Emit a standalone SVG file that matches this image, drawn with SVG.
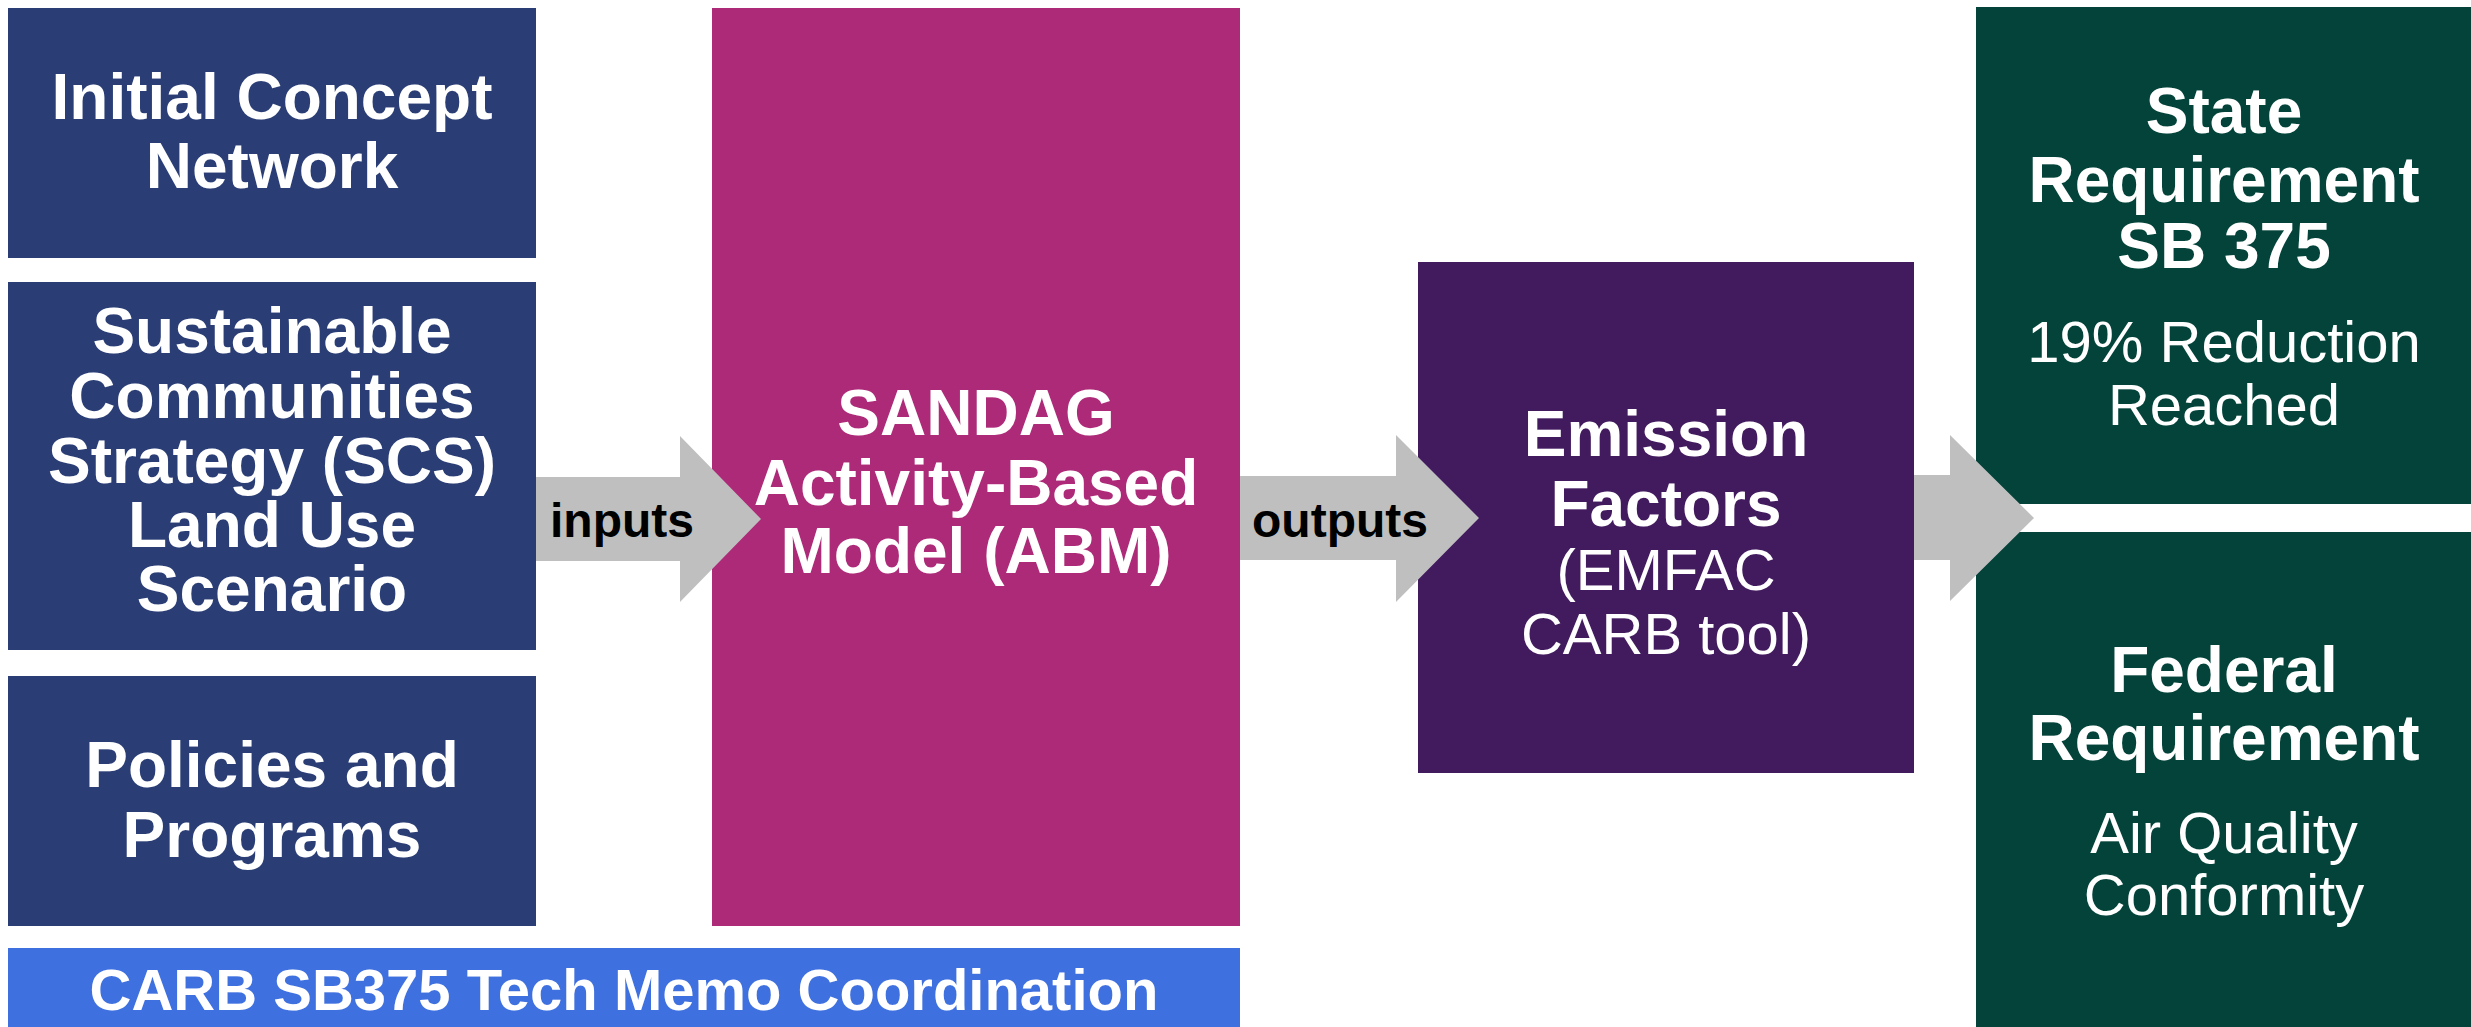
<svg xmlns="http://www.w3.org/2000/svg" width="2471" height="1027" viewBox="0 0 2471 1027">
<style>
.b{font-family:"Liberation Sans",Arial,sans-serif;font-weight:bold;font-size:64px;fill:#fff;text-anchor:middle}
.r{font-family:"Liberation Sans",Arial,sans-serif;font-size:58px;fill:#fff;text-anchor:middle}
.k{font-family:"Liberation Sans",Arial,sans-serif;font-weight:bold;font-size:48px;fill:#000;text-anchor:middle}
.navy{fill:#2A3E75}
.arrow{fill:#BFBFBF}
</style>
<rect width="2471" height="1027" fill="#fff"/>
<g id="n-initial">
<rect class="navy" x="8" y="8" width="528" height="250"/>
<text class="b" x="272" y="119">Initial Concept</text>
<text class="b" x="272" y="188">Network</text>
</g>
<g id="n-scs">
<rect class="navy" x="8" y="282" width="528" height="368"/>
<text class="b" x="272" y="353">Sustainable</text>
<text class="b" x="272" y="418">Communities</text>
<text class="b" x="272" y="483">Strategy (SCS)</text>
<text class="b" x="272" y="547">Land Use</text>
<text class="b" x="272" y="611">Scenario</text>
</g>
<g id="n-policies">
<rect class="navy" x="8" y="676" width="528" height="250"/>
<text class="b" x="272" y="787">Policies and</text>
<text class="b" x="272" y="857">Programs</text>
</g>
<g id="n-abm">
<rect x="712" y="8" width="528" height="918" fill="#AD2A78"/>
<text class="b" x="976" y="435">SANDAG</text>
<text class="b" x="976" y="505">Activity-Based</text>
<text class="b" x="976" y="573">Model (ABM)</text>
</g>
<g id="n-carb">
<rect x="8" y="948" width="1232" height="79" fill="#3F70DF"/>
<text class="b" x="624" y="1010" style="font-size:58px">CARB SB375 Tech Memo Coordination</text>
</g>
<g id="n-emission">
<rect x="1418" y="262" width="496" height="511" fill="#421A5E"/>
<text class="b" x="1666" y="456">Emission</text>
<text class="b" x="1666" y="526">Factors</text>
<text class="r" x="1666" y="590">(EMFAC</text>
<text class="r" x="1666" y="654">CARB tool)</text>
</g>
<g id="n-state">
<rect x="1976" y="7" width="495" height="497" fill="#03433A"/>
<text class="b" x="2224" y="133">State</text>
<text class="b" x="2224" y="202">Requirement</text>
<text class="b" x="2224" y="268">SB 375</text>
<text class="r" x="2224" y="362">19% Reduction</text>
<text class="r" x="2224" y="425">Reached</text>
</g>
<g id="n-federal">
<rect x="1976" y="532" width="495" height="495" fill="#03433A"/>
<text class="b" x="2224" y="692">Federal</text>
<text class="b" x="2224" y="760">Requirement</text>
<text class="r" x="2224" y="853">Air Quality</text>
<text class="r" x="2224" y="915">Conformity</text>
</g>
<g id="connectors">
<polygon class="arrow" points="536,477 680,477 680,436 761,519 680,602 680,561 536,561"/>
<text class="k" x="622" y="537">inputs</text>
<polygon class="arrow" points="1240,476 1396,476 1396,435 1479,518 1396,602 1396,560 1240,560"/>
<text class="k" x="1340" y="537">outputs</text>
<polygon class="arrow" points="1914,475 1950,475 1950,435 2034,518 1950,601 1950,560 1914,560"/>
</g>
</svg>
